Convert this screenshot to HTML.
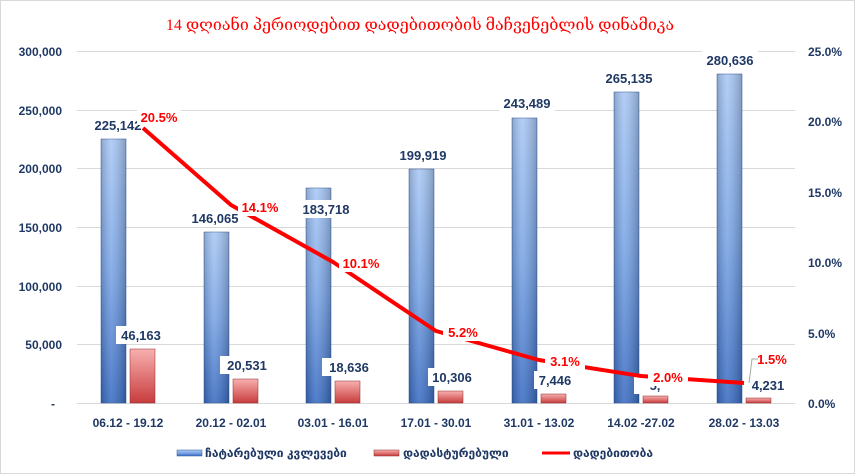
<!DOCTYPE html>
<html><head><meta charset="utf-8"><style>
body{margin:0;background:#fff;}
svg{display:block;font-family:"Liberation Sans","DejaVu Sans",sans-serif;}
.ax{font-size:12px;font-weight:bold;fill:#1f3864;}
.v{font-size:13px;font-weight:bold;fill:#1f3864;text-anchor:middle;}
.p{font-size:13px;font-weight:bold;fill:#ff0000;text-anchor:middle;}
</style></head><body>
<svg width="855" height="474" viewBox="0 0 855 474">
<defs>
<linearGradient id="bg" x1="0" x2="0" y1="0" y2="1">
<stop offset="0" stop-color="#a9c8f5"/><stop offset="0.5" stop-color="#7aa5e6"/><stop offset="1" stop-color="#3a6cc2"/></linearGradient>
<linearGradient id="rg" x1="0" x2="0" y1="0" y2="1">
<stop offset="0" stop-color="#f8b0b0"/><stop offset="1" stop-color="#c83c3c"/></linearGradient>
<linearGradient id="sh" x1="0" x2="1" y1="0" y2="0">
<stop offset="0" stop-color="#000" stop-opacity="0.18"/><stop offset="0.4" stop-color="#fff" stop-opacity="0.12"/><stop offset="1" stop-color="#000" stop-opacity="0.22"/></linearGradient>
</defs>
<rect x="0.5" y="0.5" width="854" height="473" fill="#fff" stroke="#d9d9d9"/>
<text x="420" y="30" text-anchor="middle" font-size="16" fill="#ff0000" font-family="'Liberation Serif','DejaVu Serif',serif">14 დღიანი პერიოდებით დადებითობის მაჩვენებლის დინამიკა</text>
<g stroke="#d9d9d9" stroke-width="1">
<line x1="77" x2="795" y1="51.5" y2="51.5"/><line x1="77" x2="795" y1="110.5" y2="110.5"/><line x1="77" x2="795" y1="168.5" y2="168.5"/><line x1="77" x2="795" y1="227.5" y2="227.5"/><line x1="77" x2="795" y1="286.5" y2="286.5"/><line x1="77" x2="795" y1="344.5" y2="344.5"/><line x1="77" x2="795" y1="403.5" y2="403.5"/>
</g>
<g class="ax" text-anchor="end">
<text x="62" y="56">300,000</text><text x="62" y="115">250,000</text><text x="62" y="173">200,000</text><text x="62" y="232">150,000</text><text x="62" y="291">100,000</text><text x="62" y="349">50,000</text><text x="55" y="408">-</text>
</g>
<g class="ax" text-anchor="start">
<text x="808" y="56">25.0%</text><text x="808" y="126">20.0%</text><text x="808" y="197">15.0%</text><text x="808" y="267">10.0%</text><text x="808" y="338">5.0%</text><text x="808" y="408">0.0%</text>
</g>
<g class="ax" text-anchor="middle">
<text x="128" y="427">06.12 - 19.12</text><text x="231" y="427">20.12 - 02.01</text><text x="333" y="427">03.01 - 16.01</text><text x="436" y="427">17.01 - 30.01</text><text x="539" y="427">31.01 - 13.02</text><text x="641" y="427">14.02 -27.02</text><text x="744" y="427">28.02 - 13.03</text>
</g>
<g fill="url(#bg)" stroke="#2e5597" stroke-width="0.5">
<rect x="101" y="139" width="25" height="264"/><rect x="204" y="232" width="25" height="171"/><rect x="306" y="188" width="25" height="215"/><rect x="409" y="169" width="25" height="234"/><rect x="512" y="118" width="25" height="285"/><rect x="614" y="92" width="25" height="311"/><rect x="717" y="74" width="25" height="329"/>
</g>
<g fill="url(#sh)">
<rect x="101" y="139" width="25" height="264"/><rect x="204" y="232" width="25" height="171"/><rect x="306" y="188" width="25" height="215"/><rect x="409" y="169" width="25" height="234"/><rect x="512" y="118" width="25" height="285"/><rect x="614" y="92" width="25" height="311"/><rect x="717" y="74" width="25" height="329"/>
</g>
<g fill="url(#rg)" stroke="#8c2a2a" stroke-width="0.5">
<rect x="130" y="349" width="25" height="54"/><rect x="233" y="379" width="25" height="24"/><rect x="335" y="381" width="25" height="22"/><rect x="438" y="391" width="25" height="12"/><rect x="541" y="394" width="25" height="9"/><rect x="643" y="396" width="25" height="7"/><rect x="746" y="398" width="25" height="5"/>
</g>
<g fill="#fff">
<rect x="88" y="116" width="60" height="18"/><rect x="188" y="209" width="54" height="18"/><rect x="298" y="200" width="56" height="18"/><rect x="395" y="146" width="56" height="18"/><rect x="499" y="94" width="56" height="18"/><rect x="601" y="69" width="56" height="18"/><rect x="702" y="51" width="56" height="18"/>
<rect x="116" y="326" width="50" height="18"/><rect x="220" y="356" width="52" height="18"/><rect x="322" y="358" width="52" height="18"/><rect x="428" y="368" width="48" height="18"/><rect x="534" y="371" width="42" height="18"/><rect x="634" y="376" width="42" height="18"/>
</g>
<polyline points="143,128 231,205 333,262 436,331 539,360 641,376 744,383" fill="none" stroke="#ff0000" stroke-width="4" stroke-linejoin="round"/>
<g class="v">
<text x="118" y="130">225,142</text><text x="215" y="223">146,065</text><text x="326" y="214">183,718</text><text x="423" y="160">199,919</text><text x="527" y="108">243,489</text><text x="629" y="83">265,135</text><text x="730" y="65">280,636</text>
<text x="141" y="340">46,163</text><text x="247" y="370">20,531</text><text x="349" y="372">18,636</text><text x="452" y="382">10,306</text><text x="555" y="385">7,446</text><text x="655" y="390">5,</text><text x="768" y="390">4,231</text>
</g>
<g fill="#fff">
<rect x="137" y="108" width="44" height="17"/><rect x="238" y="199" width="44" height="17"/><rect x="339" y="255" width="44" height="17"/><rect x="443" y="324" width="40" height="17"/><rect x="545" y="353" width="40" height="17"/><rect x="648" y="369" width="40" height="17"/><rect x="754" y="351" width="38" height="17"/>
</g>
<path d="M758,359 L752,359 L749,383" fill="none" stroke="#a6a6a6" stroke-width="1"/>
<g class="p">
<text x="159" y="122">20.5%</text><text x="260" y="212">14.1%</text><text x="361" y="268">10.1%</text><text x="463" y="337">5.2%</text><text x="565" y="366">3.1%</text><text x="668" y="382">2.0%</text><text x="772" y="364">1.5%</text>
</g>
<g font-size="12" fill="#1f3864" font-weight="bold">
<rect x="177" y="450" width="25" height="6" fill="url(#bg)" stroke="#2e5597" stroke-width="0.5"/>
<text x="205" y="457">ჩატარებული კვლევები</text>
<rect x="374" y="450" width="25" height="6" fill="url(#rg)" stroke="#8c2a2a" stroke-width="0.5"/>
<text x="403" y="457">დადასტურებული</text>
<line x1="542" x2="570" y1="453" y2="453" stroke="#ff0000" stroke-width="3"/>
<text x="573" y="457">დადებითობა</text>
</g>
</svg>
</body></html>
